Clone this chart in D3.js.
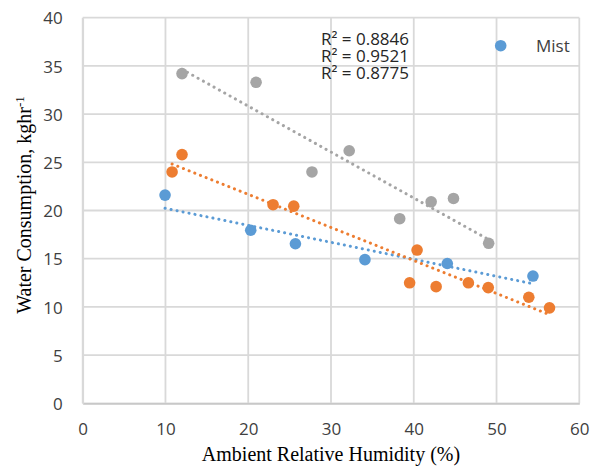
<!DOCTYPE html>
<html>
<head>
<meta charset="utf-8">
<script src="https://cdn.jsdelivr.net/npm/d3@7"></script>
<style>
  html, body { margin: 0; padding: 0; background: #fff; }
  svg { display: block; }
</style>
</head>
<body>
<svg id="chart" width="601" height="473"></svg>
<script>
// Ambient relative humidity (%) vs. water consumption (kg/hr), three series
const mistX   = [9.95, 20.3, 25.7, 34.1, 44.05, 54.4];
const mistY   = [21.6, 17.95, 16.55, 14.9, 14.5, 13.2];
const seriesBX = [10.8, 12.0, 23.0, 25.5, 39.5, 40.4, 42.7, 46.6, 49.0, 53.9, 56.4];
const seriesBY = [24.0, 25.8, 20.6, 20.45, 12.5, 15.9, 12.1, 12.5, 12.0, 11.0, 9.9];
const seriesCX = [12.0, 20.95, 27.7, 32.2, 38.3, 42.1, 44.8, 49.05];
const seriesCY = [34.2, 33.3, 24.0, 26.2, 19.15, 20.9, 21.25, 16.6];

const xTicks = [0, 10, 20, 30, 40, 50, 60];
const yTicks = [0, 5, 10, 15, 20, 25, 30, 35, 40];
const r2Labels = ["R² = 0.8846", "R² = 0.9521", "R² = 0.8775"];
const legendLabels = ["Mist"];

const colors = ["#5B9BD5", "#ED7D31", "#A5A5A5"];

const series = [
  { xs: mistX, ys: mistY, color: colors[0] },
  { xs: seriesBX, ys: seriesBY, color: colors[1] },
  { xs: seriesCX, ys: seriesCY, color: colors[2] }
];

const svg = d3.select("#chart");
const plot = { left: 82.7, right: 579.3, top: 17.7, bottom: 403.3 };

const x = d3.scaleLinear().domain([0, 60]).range([plot.left, plot.right]);
const y = d3.scaleLinear().domain([0, 40]).range([plot.bottom, plot.top]);

const gridColor = "#D9D9D9";

// gridlines
const grid = svg.append("g");
grid.selectAll("line.v").data(xTicks).join("line")
  .attr("x1", d => x(d)).attr("x2", d => x(d))
  .attr("y1", plot.top).attr("y2", plot.bottom)
  .attr("stroke", gridColor).attr("stroke-width", 1.8);
grid.selectAll("line.h").data(yTicks).join("line")
  .attr("x1", plot.left).attr("x2", plot.right)
  .attr("y1", d => y(d)).attr("y2", d => y(d))
  .attr("stroke", gridColor).attr("stroke-width", 1.8);

// axes (labels only, no tick marks)
const xAxis = svg.append("g")
  .attr("transform", `translate(0,${plot.bottom})`)
  .call(d3.axisBottom(x).tickValues(xTicks).tickSize(0).tickPadding(0));
xAxis.select(".domain").attr("stroke", "#C8C8C8").attr("stroke-width", 1.8);
xAxis.selectAll("text")
  .attr("y", 32).attr("dy", 0)
  .attr("font-family", "'Open Sans', sans-serif").attr("font-size", 17)
  .attr("fill", "#404040");

const yAxis = svg.append("g")
  .attr("transform", `translate(${plot.left},0)`)
  .call(d3.axisLeft(y).tickValues(yTicks).tickSize(0).tickPadding(0));
yAxis.select(".domain").attr("stroke", gridColor).attr("stroke-width", 1.8);
yAxis.selectAll("text")
  .attr("x", 62.7 - plot.left).attr("dy", "0.36em")
  .attr("font-family", "'Open Sans', sans-serif").attr("font-size", 17)
  .attr("fill", "#404040");

// least-squares linear trend for each series
function fit(xs, ys) {
  const mx = d3.mean(xs), my = d3.mean(ys);
  let sxy = 0, sxx = 0;
  xs.forEach((xv, i) => { sxy += (xv - mx) * (ys[i] - my); sxx += (xv - mx) ** 2; });
  const b = sxy / sxx;
  return xv => my + b * (xv - mx);
}

const dots = svg.append("g");
series.forEach(s => {
  dots.selectAll(null).data(s.xs).join("circle")
    .attr("cx", d => x(d))
    .attr("cy", (d, i) => y(s.ys[i]))
    .attr("r", 5.8)
    .attr("fill", s.color);
});

const trends = svg.append("g");
const line = d3.line().x(d => x(d[0])).y(d => y(d[1]));
series.forEach(s => {
  const f = fit(s.xs, s.ys);
  const [x0, x1] = d3.extent(s.xs);
  trends.append("path")
    .attr("d", line([[x0, f(x0)], [x1, f(x1)]]))
    .attr("fill", "none")
    .attr("stroke", s.color)
    .attr("stroke-width", 3)
    .attr("stroke-linecap", "round")
    .attr("stroke-dasharray", "0.1,6");
});

// R² labels
svg.append("g").selectAll("text").data(r2Labels).join("text")
  .attr("x", 321)
  .attr("y", (d, i) => 45 + i * 17.2)
  .attr("font-family", "'Open Sans', sans-serif")
  .attr("font-size", 17)
  .attr("fill", "#262626")
  .text(d => d);

// legend
const legend = svg.append("g");
legend.append("circle").attr("cx", 500.7).attr("cy", 45.7).attr("r", 5.8).attr("fill", colors[0]);
legend.append("text")
  .attr("x", 536).attr("y", 51.7)
  .attr("font-family", "'Open Sans', sans-serif").attr("font-size", 17)
  .attr("fill", "#404040")
  .text(legendLabels[0]);

// axis titles
svg.append("text")
  .attr("x", (plot.left + plot.right) / 2).attr("y", 460.7)
  .attr("text-anchor", "middle")
  .attr("font-family", "'Liberation Serif', 'Times New Roman', serif")
  .attr("font-size", 20)
  .attr("fill", "#000")
  .text("Ambient Relative Humidity (%)");

const yTitle = svg.append("text")
  .attr("transform", "translate(31,205) rotate(-90)")
  .attr("text-anchor", "middle")
  .attr("font-family", "'Liberation Serif', 'Times New Roman', serif")
  .attr("font-size", 20)
  .attr("fill", "#000");
yTitle.append("tspan").text("Water Consumption, kghr");
yTitle.append("tspan").attr("font-size", 13).attr("dy", -7).text("-1");
</script>
</body>
</html>
